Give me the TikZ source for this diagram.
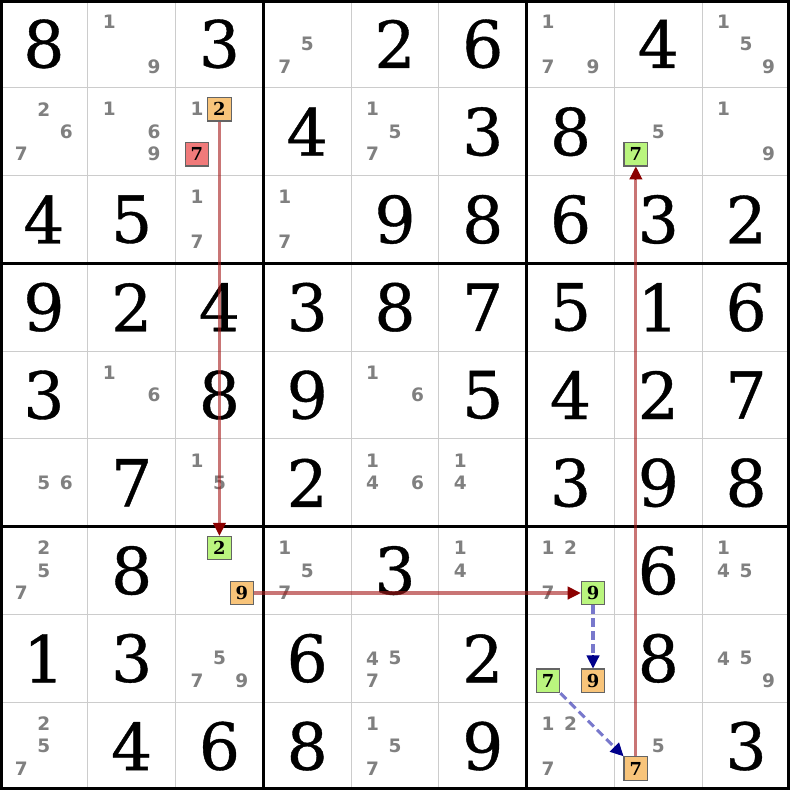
\documentclass[tikz,border=0pt]{standalone}
\usepackage{fontspec}
\setmainfont{DejaVu Serif}
\newfontfamily\candfont{DejaVu Sans}
\newfontfamily\givenfont{DejaVu Serif}[FakeBold=0.6]
\usetikzlibrary{arrows.meta,calc}
\definecolor{orangebox}{RGB}{248,196,122}
\definecolor{greenbox}{RGB}{186,245,126}
\definecolor{redbox}{RGB}{240,122,122}
\definecolor{linered}{RGB}{165,25,25}
\definecolor{headred}{RGB}{139,0,0}
\definecolor{lineblue}{RGB}{30,30,170}
\definecolor{headblue}{RGB}{0,0,139}
\definecolor{candgray}{RGB}{128,128,128}
\definecolor{thingray}{RGB}{204,204,204}
\definecolor{boxborder}{RGB}{100,100,100}
\tikzset{
  given/.style={inner sep=0pt, font={\givenfont\fontsize{21}{21}\selectfont}, text=black},
  cand/.style={inner sep=0pt, font={\candfont\bfseries\fontsize{6}{6}\selectfont}, text=candgray},
  hlbox/.style={draw=boxborder, line width=0.4pt, minimum size=0.268cm, inner sep=0pt,
    font={\bfseries\fontsize{5.8}{5.8}\selectfont}, text=black},
  orangehl/.style={hlbox, fill=orangebox},
  greenhl/.style={hlbox, fill=greenbox},
  redhl/.style={hlbox, fill=redbox},
  redline/.style={draw=linered, draw opacity=0.6, line width=1pt, shorten >=2pt},
  redtip/.style={draw=headred, fill=headred, line width=0.4pt, -{Triangle[length=4.2pt,width=4.2pt]}},
  blueline/.style={draw=lineblue, draw opacity=0.6, line width=1pt, dash pattern=on 2.7pt off 1.5pt, shorten >=2pt},
  bluetip/.style={draw=headblue, fill=headblue, line width=0.4pt, -{Triangle[length=4.2pt,width=4.2pt]}},
}
\newcommand\cnd[3]{%
  \pgfmathsetmacro\cndx{#2+0.5+(mod(#3-1,3)-1)*0.256}%
  \pgfmathsetmacro\cndy{#1+0.5+(floor((#3-1)/3)-1)*0.256}%
  \node[cand] (c#1#2#3) at (\cndx,\cndy) {#3};}
\newcommand\hlcand[4]{%
  \pgfmathsetmacro\cndx{#3+0.5+(mod(#4-1,3)-1)*0.256}%
  \pgfmathsetmacro\cndy{#2+0.5+(floor((#4-1)/3)-1)*0.256}%
  \node[#1] (h#2#3#4) at (\cndx,\cndy) {#4};}
\begin{document}
\begin{tikzpicture}[x=1cm,y=-1cm]
\useasboundingbox (0,0) rectangle (9,9);
\fill[white] (0,0) rectangle (9,9);
% thin grid
\draw[thingray, line width=0.33pt] (0,0) grid (9,9);
% thick lines
\foreach \k in {3,6} {
  \draw[black, line width=0.8pt] (\k,0) -- (\k,9);
  \draw[black, line width=0.8pt] (0,\k) -- (9,\k);
}
\draw[black, line width=2pt] (0,0) rectangle (9,9);
% givens
\foreach \r/\c/\v in {
  0/0/8, 0/2/3, 0/4/2, 0/5/6, 0/7/4,
  1/3/4, 1/5/3, 1/6/8,
  2/0/4, 2/1/5, 2/4/9, 2/5/8, 2/6/6, 2/7/3, 2/8/2,
  3/0/9, 3/1/2, 3/2/4, 3/3/3, 3/4/8, 3/5/7, 3/6/5, 3/7/1, 3/8/6,
  4/0/3, 4/2/8, 4/3/9, 4/5/5, 4/6/4, 4/7/2, 4/8/7,
  5/1/7, 5/3/2, 5/6/3, 5/7/9, 5/8/8,
  6/1/8, 6/4/3, 6/7/6,
  7/0/1, 7/1/3, 7/3/6, 7/5/2, 7/7/8,
  8/1/4, 8/2/6, 8/3/8, 8/5/9, 8/8/3}
  \node[given] (g\r\c) at (\c+0.5,\r+0.5) {\v};
% candidates
\foreach \r/\c/\d in {
  0/1/1, 0/1/9, 0/3/5, 0/3/7, 0/6/1, 0/6/7, 0/6/9, 0/8/1, 0/8/5, 0/8/9,
  1/0/2, 1/0/6, 1/0/7, 1/1/1, 1/1/6, 1/1/9, 1/2/1, 1/4/1, 1/4/5, 1/4/7, 1/7/5, 1/8/1, 1/8/9,
  2/2/1, 2/2/7, 2/3/1, 2/3/7,
  4/1/1, 4/1/6, 4/4/1, 4/4/6,
  5/0/5, 5/0/6, 5/2/1, 5/2/5, 5/4/1, 5/4/4, 5/4/6, 5/5/1, 5/5/4,
  6/0/2, 6/0/5, 6/0/7, 6/3/1, 6/3/5, 6/3/7, 6/5/1, 6/5/4, 6/6/1, 6/6/2, 6/6/7, 6/8/1, 6/8/4, 6/8/5,
  7/2/5, 7/2/7, 7/2/9, 7/4/4, 7/4/5, 7/4/7, 7/8/4, 7/8/5, 7/8/9,
  8/0/2, 8/0/5, 8/0/7, 8/4/1, 8/4/5, 8/4/7, 8/6/1, 8/6/2, 8/6/7, 8/7/5}
  {\cnd{\r}{\c}{\d}}
% highlighted candidates
\hlcand{orangehl}{1}{2}{2}
\hlcand{redhl}{1}{2}{7}
\hlcand{greenhl}{1}{7}{7}
\hlcand{greenhl}{6}{2}{2}
\hlcand{orangehl}{6}{2}{9}
\hlcand{greenhl}{6}{6}{9}
\hlcand{greenhl}{7}{6}{7}
\hlcand{orangehl}{7}{6}{9}
\hlcand{orangehl}{8}{7}{7}
% connectors
\draw[redline] (h122.south) -- (h622.north);
\draw[redtip] ($(h622.north)!4.2pt!(h122.south)$) -- (h622.north);
\draw[redline] (h629.east) -- (h669.west);
\draw[redtip] ($(h669.west)!4.2pt!(h629.east)$) -- (h669.west);
\draw[redline] (h877.north) -- (h177.south);
\draw[redtip] ($(h177.south)!4.2pt!(h877.north)$) -- (h177.south);
\draw[blueline] (h669.south) -- (h769.north);
\draw[bluetip] ($(h769.north)!4.2pt!(h669.south)$) -- (h769.north);
\draw[blueline] (h767.south east) -- (h877.north west);
\draw[bluetip] ($(h877.north west)!4.2pt!(h767.south east)$) -- (h877.north west);
\end{tikzpicture}
\end{document}
